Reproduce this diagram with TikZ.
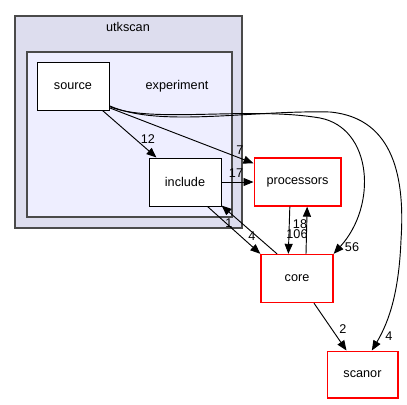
\documentclass[tikz,border=0pt]{standalone}
\usepackage{fontspec}
\setmainfont{Liberation Sans}
\usetikzlibrary{arrows.meta}
\definecolor{clouter}{HTML}{DDDDEE}
\definecolor{clinner}{HTML}{EEEEFF}
\definecolor{clborder}{HTML}{4A4A4A}
\definecolor{extred}{HTML}{FF0000}
\begin{document}
\begin{tikzpicture}[x=0.75pt,y=-0.75pt,
  font=\fontsize{9.5}{11}\selectfont,
  dirbox/.style={draw=black,fill=white,line width=0.75pt,minimum width=54pt,minimum height=36pt,inner sep=0pt},
  extbox/.style={draw=extred,fill=white,line width=1pt,minimum width=54pt,minimum height=36pt,inner sep=0pt},
  dep/.style={draw=black,line width=0.7pt,-{Triangle[length=7.5pt,width=6pt]}},
  lbl/.style={inner sep=0pt}]
\useasboundingbox (0,0) rectangle (407,404);
% clusters
\draw[clborder,fill=clouter,line width=1.5pt] (15,16) rectangle (242,228);
\node[lbl] (utk) at (128,27) {utkscan};
\draw[clborder,fill=clinner,line width=1.5pt] (27,52) rectangle (232,217);
\node[lbl] (exp) at (177,86) {experiment};
% nodes
\node[dirbox] (source) at (73,86) {source};
\node[dirbox] (include) at (185,182) {include};
\node[extbox,minimum width=65pt] (processors) at (297.5,182) {processors};
\node[extbox] (core) at (297,278.5) {core};
\node[extbox,minimum width=53pt,minimum height=35pt] (scanor) at (362.5,374.5) {scanor};
% edges
\draw[dep] ([xshift=-5.25pt]source.south east) -- ([xshift=6pt]include.north west);
\node[lbl] (l12) at (148,139) {12};
\draw[dep] ([yshift=2pt]source.south east) -- ([yshift=-4.5pt]processors.north west);
\node[lbl] (l7) at (240,150) {7};
\draw[dep] ([yshift=3pt]source.south east) .. controls (150,124) and (250,106) .. (320,118)
   .. controls (372,128) and (378,205) .. (core.north east);
\node[lbl] (l56) at (352,247) {56};
\draw[dep] ([yshift=3.5pt]source.south east) .. controls (160,128) and (250,110) .. (330,112)
   .. controls (395,118) and (405,180) .. (401,240)
   .. controls (399,290) and (390,320) .. ([xshift=7pt]scanor.north);
\node[lbl] (l4b) at (389,336) {4};
\draw[dep] (include.east) -- (processors.west);
\node[lbl] (l17) at (236,173) {17};
\draw[dep] ([xshift=-10.5pt]include.south east) -- (core.north west);
\node[lbl] (l4a) at (252,236) {4};
\draw[dep] ([xshift=-15pt]core.north) -- ([yshift=0.75pt]include.south east);
\node[lbl] (l1) at (229,223) {1};
\draw[dep] ([xshift=-5.75pt]processors.south) -- ([xshift=-6.5pt]core.north);
\node[lbl] (l106) at (297,234) {106};
\draw[dep] ([xshift=6.75pt]core.north) -- ([xshift=7.25pt]processors.south);
\node[lbl] (l18) at (300,224) {18};
\draw[dep] ([xshift=12.75pt]core.south) -- ([xshift=-12pt]scanor.north);
\node[lbl] (l2) at (343,329) {2};
\end{tikzpicture}
\end{document}
